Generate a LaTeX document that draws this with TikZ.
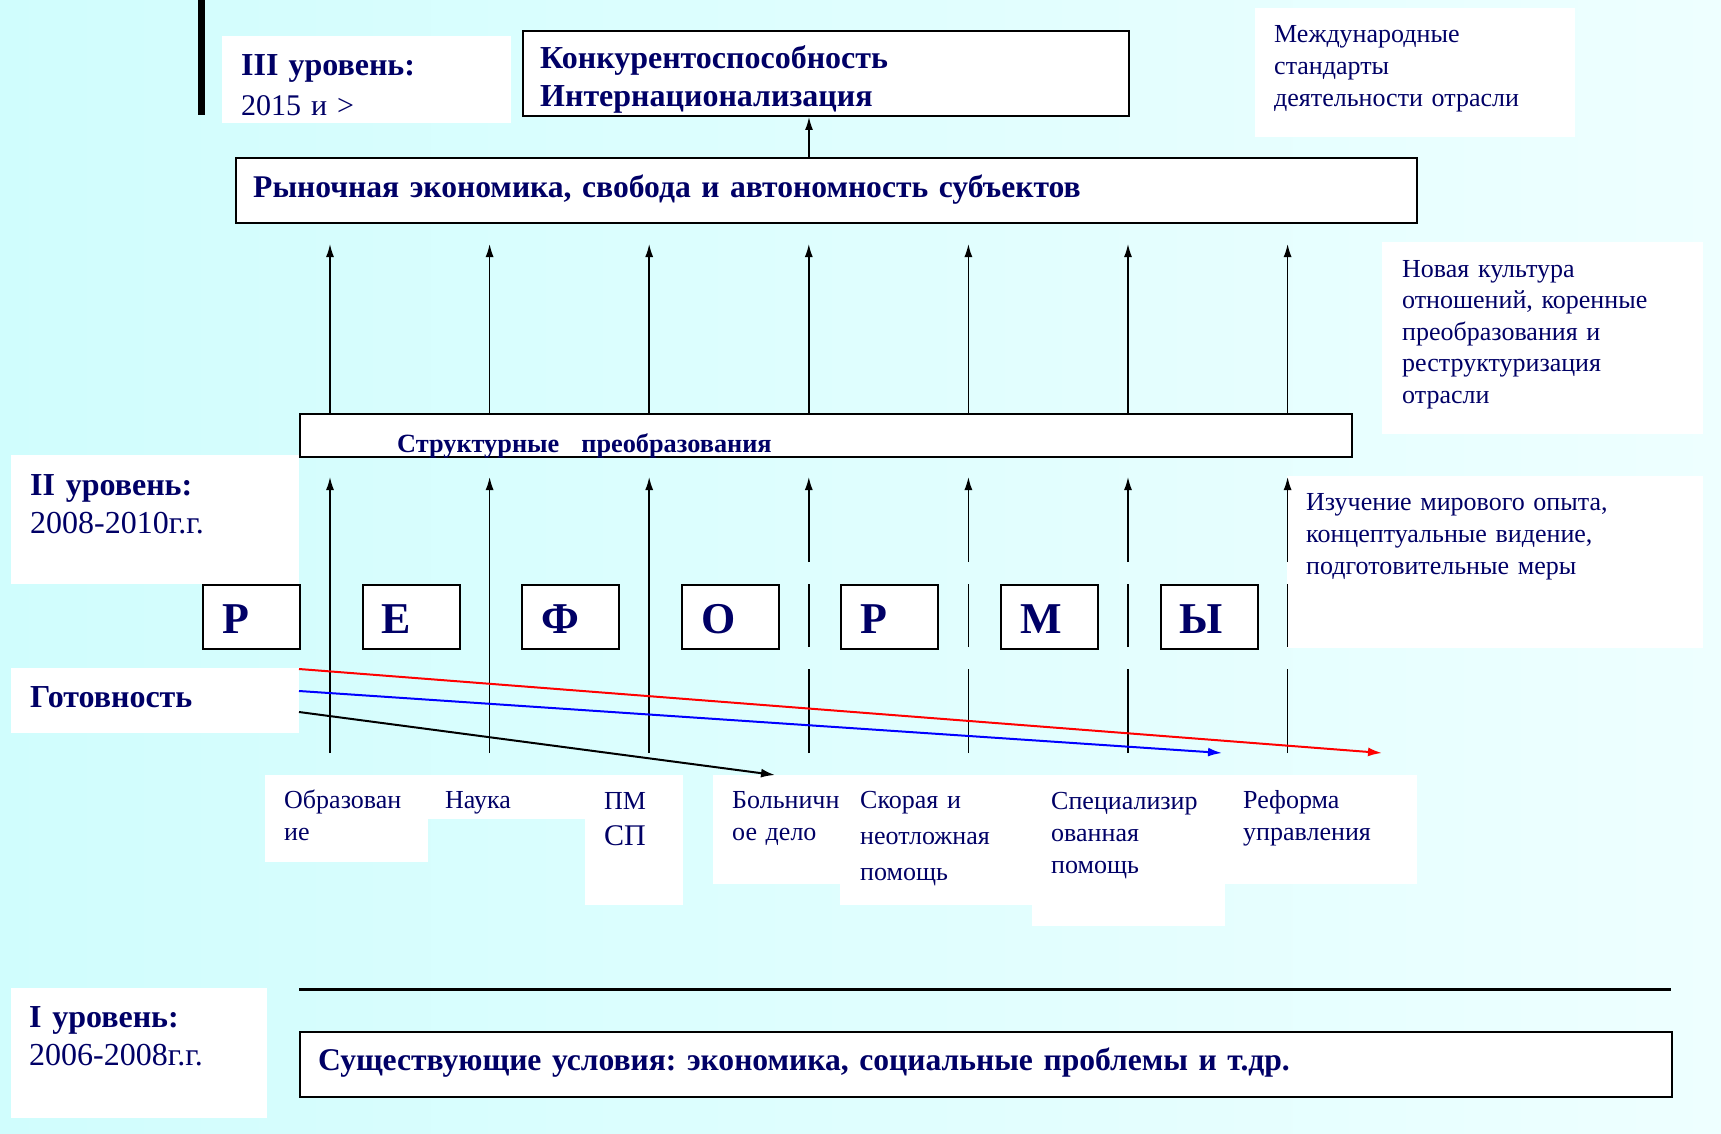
\documentclass[tikz,border=0pt]{standalone}
\usepackage{fontspec}
\setmainfont{Liberation Serif}
\usetikzlibrary{arrows.meta}
\definecolor{navy}{RGB}{0,0,102}
\definecolor{bgL}{RGB}{208,253,253}
\definecolor{bgR}{RGB}{238,255,255}
\frenchspacing
\begin{document}
\begin{tikzpicture}[x=1pt,y=-1pt,
  frame/.style={draw=black,line width=2pt,fill=white,inner sep=0pt,anchor=north west},
  wbox/.style={fill=white,inner sep=0pt,anchor=north west},
  txt/.style={inner sep=0pt,anchor=base west,text=navy,align=left,text width=#1},
  txt/.default=1400pt,
  hb/.style={font=\fontsize{32}{38}\selectfont\bfseries},
  hbw/.style={font=\fontsize{31.6}{38}\selectfont\bfseries},
  rg/.style={font=\fontsize{26}{32}\selectfont},
  arr/.style={-{Latex[length=13pt,width=8pt]},line width=1.5pt},
  slant/.style={-{Latex[length=14pt,width=9pt]},line width=2pt}]
\path[use as bounding box] (0,0) rectangle (1721,1134);
\shade[left color=bgL,right color=bgR] (0,0) rectangle (1721,1134);
% black bar
\fill[black] (198,0) rectangle (205,115);
% white label boxes
\node[wbox,minimum width=289pt,minimum height=87pt] (lvl3) at (222,36) {};
\node[wbox,minimum width=320pt,minimum height=129pt] (mm) at (1255,8) {};
\node[wbox,minimum width=321pt,minimum height=192pt] (cult) at (1382,242) {};
\node[wbox,minimum width=288pt,minimum height=129pt] (lvl2) at (11,455) {};
\node[wbox,minimum width=416pt,minimum height=172pt] (study) at (1287,476) {};
\node[wbox,minimum width=288pt,minimum height=65pt] (ready) at (11,668) {};
\node[wbox,minimum width=163pt,minimum height=87pt] (b1) at (265,775) {};
\node[wbox,minimum width=157pt,minimum height=44pt] (b2) at (428,775) {};
\node[wbox,minimum width=98pt,minimum height=130pt] (b3) at (585,775) {};
\node[wbox,minimum width=127pt,minimum height=109pt] (b4) at (713,775) {};
\node[wbox,minimum width=192pt,minimum height=130pt] (b5) at (840,775) {};
\node[wbox,minimum width=193pt,minimum height=151pt] (b6) at (1032,775) {};
\node[wbox,minimum width=192pt,minimum height=109pt] (b7) at (1225,775) {};
\node[wbox,minimum width=256pt,minimum height=130pt] (lvl1) at (11,988) {};
% framed boxes
\node[frame,minimum width=606pt,minimum height=85pt] (top) at (522,30) {};
\node[frame,minimum width=1181pt,minimum height=65pt] (market) at (235,157) {};
\node[frame,minimum width=1052pt,minimum height=43pt] (struct) at (299,413) {};
\node[frame,minimum width=1372pt,minimum height=65pt] (exist) at (299,1031) {};
\coordinate (hl1) at (299,989);
\coordinate (hl2) at (1671,989);
\draw[line width=3pt] (hl1) -- (hl2);
% letter boxes
\foreach \l [count=\i from 0] in {Р,Е,Ф,О,Р,М,Ы}{
  \node[frame,minimum width=97pt,minimum height=64pt] (L\i) at ({202+159.6*\i},584) {};
  \node[txt,font=\fontsize{44}{50}\selectfont\bfseries] (tL\i) at ({222+159.6*\i},633) {\l};
}
% arrows
\coordinate (ax) at (809,0);
\draw[arr] (market.north -| ax) -- (top.south -| ax);
\foreach \i in {0,...,6}{
  \coordinate (ub\i) at ({330+159.6*\i},413);
  \coordinate (ut\i) at ({330+159.6*\i},244);
  \draw[arr] (ub\i) -- (ut\i);
}
\foreach \i in {0,1,2}{
  \coordinate (lb\i) at ({330+159.6*\i},753);
  \coordinate (lt\i) at ({330+159.6*\i},477);
  \draw[arr] (lb\i) -- (lt\i);
}
\foreach \i in {3,...,6}{
  \coordinate (lb\i) at ({330+159.6*\i},753);
  \coordinate (la\i) at ({330+159.6*\i},669);
  \coordinate (lc\i) at ({330+159.6*\i},647);
  \coordinate (ld\i) at ({330+159.6*\i},584);
  \coordinate (le\i) at ({330+159.6*\i},562);
  \coordinate (lt\i) at ({330+159.6*\i},477);
  \draw[line width=1.5pt] (lb\i) -- (la\i) (lc\i) -- (ld\i);
  \draw[arr] (le\i) -- (lt\i);
}
% slanted arrows
\coordinate (r0) at (299,669); \coordinate (r1) at (1382,753);
\coordinate (u0) at (299,691); \coordinate (u1) at (1222,753);
\coordinate (k0) at (299,712); \coordinate (k1) at (775,775);
\draw[slant,red] (r0) -- (r1);
\draw[slant,blue] (u0) -- (u1);
\draw[slant,black] (k0) -- (k1);
% texts
\node[txt,font=\fontsize{30}{40}\selectfont] (t3) at (241,76) {{\fontsize{32}{40}\selectfont\bfseries III уровень:}\\2015 и >};
\node[txt,hb] (ttop) at (540,69) {Конкурентоспособность\\Интернационализация};
\node[txt,rg] (tmm) at (1274,43) {Международные\\стандарты\\деятельности отрасли};
\node[txt,hbw] (tmarket) at (253,197) {Рыночная экономика, свобода и автономность субъектов};
\node[txt,font=\fontsize{26}{31.5}\selectfont] (tcult) at (1402,277) {Новая культура\\отношений, коренные\\преобразования и\\реструктуризация\\отрасли};
\node[txt,font=\fontsize{26.3}{30}\selectfont\bfseries] (tstruct) at (397,452) {Структурные\hspace{22pt}преобразования};
\node[txt,font=\fontsize{32}{38}\selectfont] (t2) at (30,495) {\textbf{II уровень:}\\2008-2010г.г.};
\node[txt,rg] (tstudy) at (1306,510) {Изучение мирового опыта,\\концептуальные видение,\\подготовительные меры};
\node[txt,hb] (tready) at (30,707) {Готовность};
\node[txt,font=\fontsize{32}{38}\selectfont] (t1) at (29,1027) {\textbf{I уровень:}\\2006-2008г.г.};
\node[txt,hbw] (texist) at (318,1070) {Существующие условия: экономика, социальные проблемы и т.др.};
\node[txt,rg] (tb1) at (284,808) {Образован\\ие};
\node[txt,rg] (tb2) at (445,808) {Наука};
\node[txt,font=\fontsize{26}{36}\selectfont] (tb3) at (604,809) {ПМ\\{\fontsize{30}{36}\selectfont СП}};
\node[txt,rg] (tb4) at (732,808) {Больничн\\ое дело};
\node[txt,font=\fontsize{26}{36}\selectfont] (tb5) at (860,808) {Скорая и\\неотложная\\помощь};
\node[txt,rg] (tb6) at (1051,809) {Специализир\\ованная\\помощь};
\node[txt,rg] (tb7) at (1243,808) {Реформа\\управления};
\end{tikzpicture}
\end{document}
